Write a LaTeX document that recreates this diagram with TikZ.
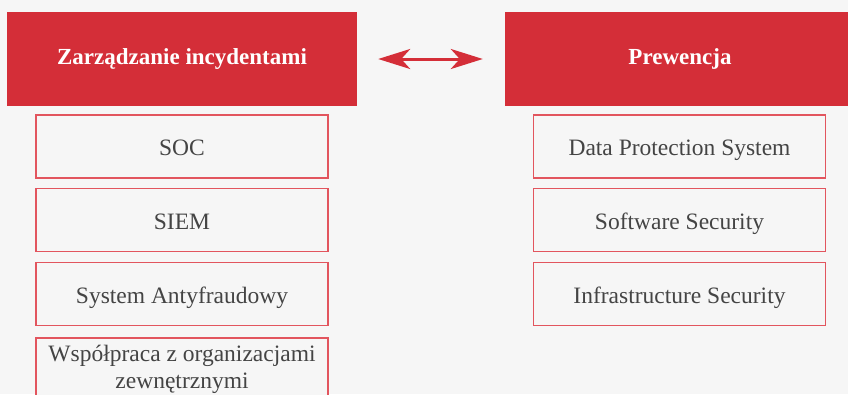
\documentclass[tikz,border=0pt]{standalone}
\usepackage{fontspec}
\setmainfont{Liberation Serif}
\usetikzlibrary{arrows.meta}

\definecolor{headred}{HTML}{D42E38}
\definecolor{linered}{HTML}{E2555E}
\definecolor{bgray}{HTML}{F6F6F6}
\definecolor{txtgray}{HTML}{444444}

\tikzset{
  head/.style={fill=headred, text=white, inner sep=0pt,
    minimum width=350pt, minimum height=94pt,
    font=\fontsize{23}{27}\selectfont\bfseries},
  item/.style={draw=linered, line width=1.3pt, fill=bgray, text=txtgray,
    inner sep=0pt, minimum width=292pt, minimum height=63pt, align=center,
    font=\fontsize{23.5}{28}\selectfont},
  oneline/.style={item, text height=20pt, text depth=2pt}
}

\begin{document}
\begin{tikzpicture}[x=1pt,y=-1pt]
\clip (0,0) rectangle (848,394);
\fill[bgray] (0,0) rectangle (848,394);
% column headers
\node[head] (zi) at (182,59) {Zarządzanie incydentami};
\node[head] (pw) at (680,59) {Prewencja};
\draw[headred, line width=3pt,
  {Stealth[length=32pt,width=20pt,inset=9pt]}-{Stealth[length=32pt,width=20pt,inset=9pt]}]
  ([xshift=21pt]zi.east) -- ([xshift=-22pt]pw.west);
% left column
\node[oneline] (soc) at (182,146.5) {SOC};
\node[oneline] (siem) at (182,220) {SIEM};
\node[oneline] (saf) at (182,294) {System Antyfraudowy};
\node[item] (wzo) at (182,369.5) {Współpraca z organizacjami\\[-1pt]zewnętrznymi};
% right column
\node[oneline] (dps) at (679.5,146.5) {Data Protection System};
\node[oneline] (ssw) at (679.5,220) {Software Security};
\node[oneline] (isc) at (679.5,294) {Infrastructure Security};
\end{tikzpicture}
\end{document}
